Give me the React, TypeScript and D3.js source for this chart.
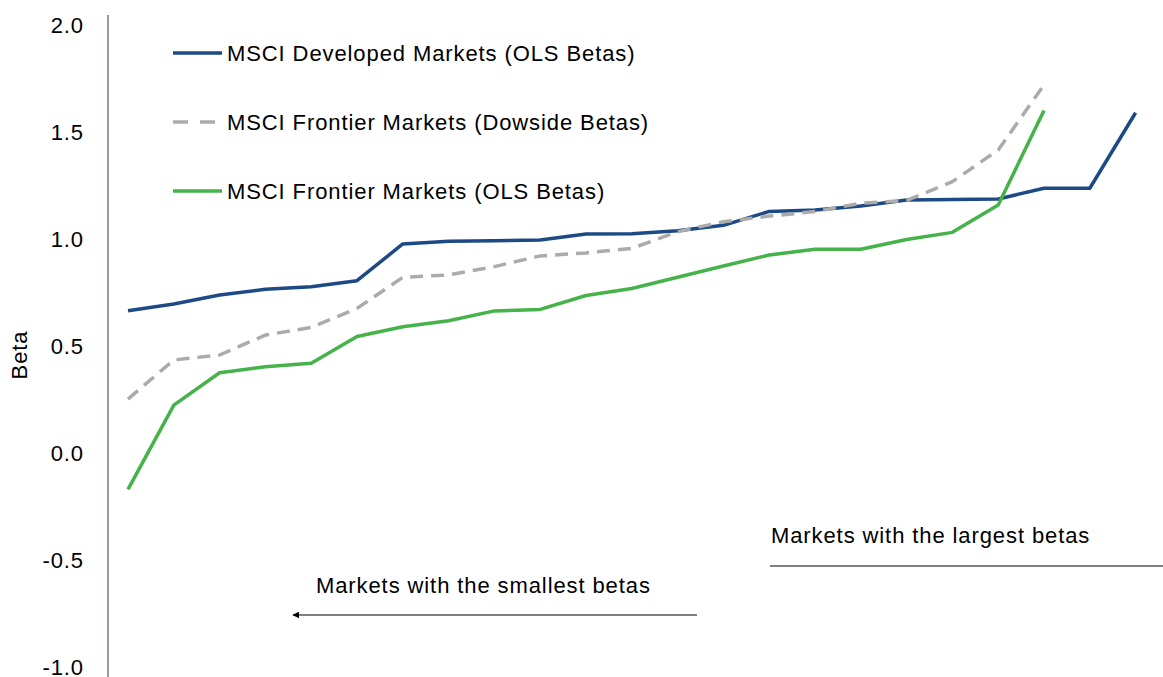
import React, { useEffect, useRef } from 'react';
import * as d3 from 'd3';

// Betas sorted from smallest to largest market
const developedOls = [0.665, 0.696, 0.738, 0.765, 0.777, 0.805, 0.977, 0.989, 0.992, 0.995, 1.023,
  1.025, 1.039, 1.064, 1.129, 1.136, 1.154, 1.182, 1.185, 1.187, 1.237, 1.237, 1.59];
const frontierDownside = [0.252, 0.435, 0.458, 0.551, 0.587, 0.676, 0.821, 0.832, 0.871, 0.921, 0.935,
  0.956, 1.034, 1.081, 1.107, 1.128, 1.167, 1.18, 1.268, 1.416, 1.72];
const frontierOls = [-0.17, 0.224, 0.375, 0.403, 0.419, 0.544, 0.59, 0.618, 0.664, 0.671, 0.736,
  0.769, 0.821, 0.874, 0.925, 0.952, 0.952, 0.998, 1.031, 1.159, 1.6];
const yTicks = [-1.0, -0.5, 0.0, 0.5, 1.0, 1.5, 2.0];
const seriesNames = [
  'MSCI Developed Markets (OLS Betas)',
  'MSCI Frontier Markets (Dowside Betas)',
  'MSCI Frontier Markets (OLS Betas)',
];

const W = 1163;
const H = 677;
const FONT = '"Liberation Sans", Arial, sans-serif';
const FS = '22px';
const LS = '0.9px';

const App = () => {
  const svgRef = useRef<SVGSVGElement>(null);

  useEffect(() => {
    const svg = d3.select(svgRef.current);
    svg.selectAll('*').remove();

    const x = d3.scaleLinear().domain([0, developedOls.length - 1]).range([128, 1135.6]);
    const y = d3.scaleLinear().domain([-1, 2]).range([667, 25]);

    const series = [
      { name: seriesNames[0], values: developedOls, color: '#1d4a85', dash: null },
      { name: seriesNames[1], values: frontierDownside, color: '#ababab', dash: '13,8' },
      { name: seriesNames[2], values: frontierOls, color: '#45b34a', dash: null },
    ];

    const txt = (sel: any) => sel
      .style('font-family', FONT)
      .style('font-size', FS)
      .style('letter-spacing', LS)
      .style('fill', '#000');

    // arrow marker
    svg.append('defs').append('marker')
      .attr('id', 'arrow')
      .attr('viewBox', '0 0 10 10')
      .attr('refX', 9)
      .attr('refY', 5)
      .attr('markerWidth', 7)
      .attr('markerHeight', 7)
      .attr('markerUnits', 'userSpaceOnUse')
      .attr('orient', 'auto')
      .append('path')
      .attr('d', 'M0,0L10,5L0,10Z')
      .attr('fill', '#000');

    // Y axis
    const axis = svg.append('g').attr('transform', 'translate(108,0)');
    axis.append('line')
      .attr('y1', 15).attr('y2', H)
      .attr('stroke', '#4a5a6e').attr('stroke-width', 1.2);
    axis.selectAll('text.tick')
      .data(yTicks)
      .enter().append('text')
      .attr('class', 'tick')
      .attr('x', -24)
      .attr('y', d => y(d))
      .attr('dy', '0.35em')
      .attr('text-anchor', 'end')
      .call(txt)
      .text(d => d.toFixed(1));

    svg.append('text')
      .attr('transform', 'translate(27,355) rotate(-90)')
      .attr('text-anchor', 'middle')
      .call(txt)
      .text('Beta');

    // Lines
    const line = d3.line<number>()
      .x((d, i) => x(i))
      .y(d => y(d));

    series.forEach(s => {
      svg.append('path')
        .datum(s.values)
        .attr('d', line)
        .attr('fill', 'none')
        .attr('stroke', s.color)
        .attr('stroke-width', 3.5)
        .attr('stroke-dasharray', s.dash)
        .attr('stroke-linejoin', 'round');
    });

    // Legend
    const legend = svg.append('g');
    series.forEach((s, i) => {
      const ly = 53 + i * 69;
      legend.append('line')
        .attr('x1', 173).attr('x2', 222)
        .attr('y1', ly).attr('y2', ly)
        .attr('stroke', s.color)
        .attr('stroke-width', 3.5)
        .attr('stroke-dasharray', s.dash ? '15,12' : null);
      legend.append('text')
        .attr('x', 227)
        .attr('y', ly)
        .attr('dy', '0.35em')
        .call(txt)
        .text(s.name);
    });

    // Annotations
    svg.append('text')
      .attr('x', 771).attr('y', 535).attr('dy', '0.35em')
      .call(txt)
      .text('Markets with the largest betas');
    svg.append('line')
      .attr('x1', 770).attr('x2', 1170)
      .attr('y1', 566).attr('y2', 566)
      .attr('stroke', '#000').attr('stroke-width', 1.2)
      .attr('marker-end', 'url(#arrow)');

    svg.append('text')
      .attr('x', 316).attr('y', 585).attr('dy', '0.35em')
      .call(txt)
      .text('Markets with the smallest betas');
    svg.append('line')
      .attr('x1', 697).attr('x2', 293)
      .attr('y1', 615).attr('y2', 615)
      .attr('stroke', '#000').attr('stroke-width', 1.2)
      .attr('marker-end', 'url(#arrow)');
  }, []);

  return (
    <svg ref={svgRef} width={W} height={H}
      style={{ position: 'absolute', left: 0, top: 0, background: '#fff' }} />
  );
};

export default App;
